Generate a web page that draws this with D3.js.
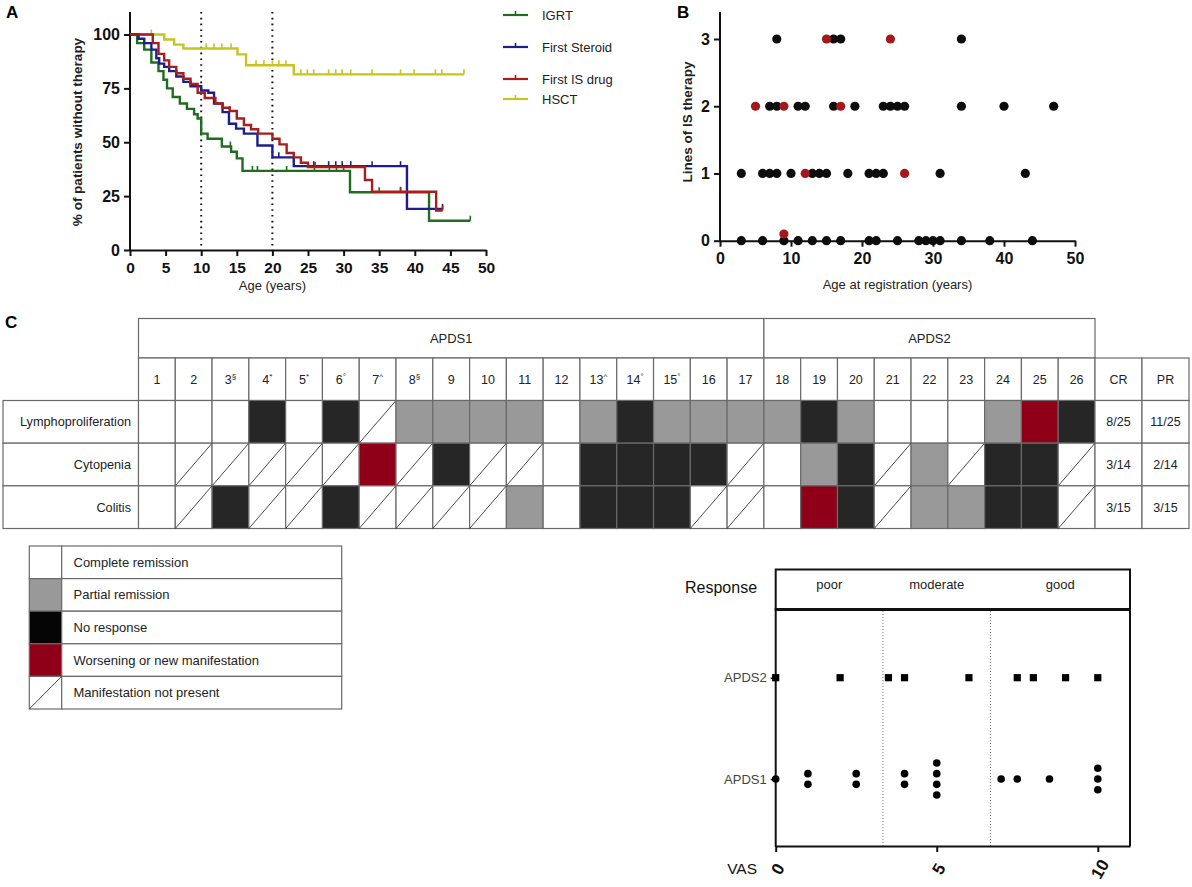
<!DOCTYPE html>
<html><head><meta charset="utf-8">
<script src="https://cdn.jsdelivr.net/npm/d3@7"></script>
<style>
body{margin:0;background:#fff}
svg{display:block}
text{font-family:"Liberation Sans",Arial,Helvetica,sans-serif}
</style>
</head><body>
<svg id="c" width="1192" height="887"></svg>
<script>
// ================= DATA =================
// Panel A: Kaplan-Meier style step curves (age in years, % without therapy)
const kmNames = ["IGRT","First Steroid","First IS drug","HSCT"];
const kmColors = ["#1f6e1f","#1d1d8c","#a81d1d","#c6c420"];
const igrtTimes = [0,1,2,3,4,4.7,5.2,6,7,8,9,9.5,10,10.9,12.9,14.2,15,15.8,30.9,42];
const igrtSurv  = [100,96,93,87,83,79,75,71,68,65.5,63,61,54,51.6,48,45.6,42.5,36.7,26.8,13.6];
const igrtEnd = 47.8;
const igrtCens = [14.1,17.2,17.9,22,25.9,28,29,30,35,38,47.8];
const steroidTimes = [0,1.2,2,3,3.7,4.1,4.8,5.5,6.5,7.5,8.5,10,11,11.8,13,13.9,14.9,16,17.9,20,23,38.9];
const steroidSurv  = [100,98,96,93,89,86.5,85,83,80.5,78,76,74,73,68,64,58.6,56.3,54,48.5,43,38.9,19.1];
const steroidEnd = 43.9;
const steroidCens = [20.9,25.8,27.9,28.9,29.8,31,34,38,43.9];
const isTimes = [0,3.2,4,4.8,5.5,6.5,7.5,8.5,9.5,10.5,12,13,14,15,16,17,18,20,21,22,23,24,25,33,34,43];
const isSurv  = [100,96,91,88,85,82,79.5,77,73,70.5,68,66,64.5,61,58,56,54,51.6,49,45,43,40.5,38.5,32.5,27,18.3];
const isEnd = 43.9;
const isCens = [14,23,26,38,43.9];
const hsctTimes = [0,4.8,6.2,7.5,15.1,16.3,23];
const hsctSurv  = [100,97.7,95.3,93.5,90.8,85.7,81.5];
const hsctEnd = 46.9;
const hsctCens = [3,10.7,11.8,12.9,14.2,17.7,18.8,20,20.9,21.9,24,24.9,25.8,27.9,28.9,29.8,31,34,38,39.9,42.9,43.8,46.9];
const ageTicksA = [0,5,10,15,20,25,30,35,40,45,50];
const pctTicksA = [0,25,50,75,100];
const refAges = [10,20];

// Panel B: lines of IS therapy vs age at registration
const blackAge   = [8,16,17,34, 7,8,11,12,16,19,23,24,25,26,34,40,47, 3,6,7,8,10,13,14,15,18,21,22,23,31,43, 3,6,9,11,13,15,17,21,22,25,28,29,30,31,34,38,44];
const blackLines = [3,3,3,3, 2,2,2,2,2,2,2,2,2,2,2,2,2, 1,1,1,1,1,1,1,1,1,1,1,1,1,1, 0,0,0,0,0,0,0,0,0,0,0,0,0,0,0,0,0];
const redAge   = [15,24, 5,9,17, 12,26, 9];
const redLines = [3,3, 2,2,2, 1,1, 0.1];
const ageTicksB = [0,10,20,30,40,50];
const lineTicksB = [0,1,2,3];

// Panel C: response table
const patientIds = ["1","2","3","4","5","6","7","8","9","10","11","12","13","14","15","16","17","18","19","20","21","22","23","24","25","26"];
const patientMarks = ["","","§","*","*","°","^","§","","","","","^","°","°","","","","","","","","","","",""];
const groupNames = ["APDS1","APDS2"];
const groupSizes = [17,9];
const manifestations = ["Lymphoproliferation","Cytopenia","Colitis"];
const lymphoResp = ["CR","CR","CR","NR","CR","NR","NP","PR","PR","PR","PR","CR","PR","NR","PR","PR","PR","PR","NR","PR","CR","CR","CR","PR","W","NR"];
const cytoResp   = ["CR","NP","NP","NP","NP","NP","W","NP","NR","NP","NP","CR","NR","NR","NR","NR","NP","CR","PR","NR","NP","PR","NP","NR","NR","NP"];
const colitisResp= ["CR","NP","NR","NP","NP","NR","NP","NP","NP","NP","PR","CR","NR","NR","NR","NP","NP","CR","W","NR","NP","PR","PR","NR","NR","NP"];
const summaryCols = ["CR","PR"];
const crValues = ["8/25","3/14","3/15"];
const prValues = ["11/25","2/14","3/15"];
const legendCodes  = ["CR","PR","NR","W","NP"];
const legendLabels = ["Complete remission","Partial remission","No response","Worsening or new manifestation","Manifestation not present"];

// Panel D: VAS response
const apds1Vas = [0,1,1,2.5,2.5,4,4,5,5,5,5,7,7.5,8.5,10,10,10];
const apds2Vas = [0,2,3.5,4,6,7.5,8,9,10];
const responseNames = ["poor","moderate","good"];
const responseCuts = [0,3.33,6.67,11];
const vasTicks = [0,5,10];

// ================= DRAW =================
const svg = d3.select("#c");
const ink = "#111";
function styleAxis(g, fs){
  g.selectAll("path.domain").attr("stroke",ink).attr("stroke-width",2);
  g.selectAll(".tick line").attr("stroke",ink).attr("stroke-width",2);
  g.selectAll(".tick text").attr("fill",ink).attr("font-size",fs).attr("font-weight","bold")
    .attr("font-family",'"Liberation Sans",Arial,sans-serif');
}
function panelLabel(t,x,y){ svg.append("text").attr("x",x).attr("y",y).attr("font-size",17).attr("font-weight","bold").attr("fill","#000").text(t); }

// ---------- Panel A ----------
panelLabel("A",6,18);
const xA = d3.scaleLinear().domain([0,50]).range([130,486]);
const yA = d3.scaleLinear().domain([0,100]).range([250,34.5]);
const gA = svg.append("g");
refAges.forEach(v=>{
  gA.append("line").attr("x1",xA(v)).attr("x2",xA(v)).attr("y1",12).attr("y2",250)
    .attr("stroke","#111").attr("stroke-width",2).attr("stroke-dasharray","1.6,4.2");
});
const axAx = gA.append("g").attr("transform","translate(0,250)")
  .call(d3.axisBottom(xA).tickValues(ageTicksA).tickSize(6).tickSizeOuter(0).tickPadding(6));
styleAxis(axAx,15.5);
const axAy = gA.append("g").attr("transform","translate(130,0)")
  .call(d3.axisLeft(yA).tickValues(pctTicksA).tickSize(6).tickSizeOuter(0).tickPadding(4));
styleAxis(axAy,16);
axAy.select("path.domain").remove();
gA.append("line").attr("x1",130).attr("x2",130).attr("y1",12).attr("y2",251).attr("stroke",ink).attr("stroke-width",2);
gA.append("text").attr("x",xA(20)).attr("y",290).attr("text-anchor","middle").attr("font-size",13).attr("fill","#222").text("Age (years)");
gA.append("text").attr("transform","translate(82,132) rotate(-90)").attr("text-anchor","middle").attr("font-size",13.5).attr("font-weight","bold").attr("fill","#222").text("% of patients without therapy");

const kmData = [
  {t:hsctTimes,s:hsctSurv,end:hsctEnd,c:hsctCens,col:kmColors[3]},
  {t:igrtTimes,s:igrtSurv,end:igrtEnd,c:igrtCens,col:kmColors[0]},
  {t:steroidTimes,s:steroidSurv,end:steroidEnd,c:steroidCens,col:kmColors[1]},
  {t:isTimes,s:isSurv,end:isEnd,c:isCens,col:kmColors[2]}
];
const stepLine = d3.line().x(d=>xA(d[0])).y(d=>yA(d[1])).curve(d3.curveStepAfter);
kmData.forEach(k=>{
  const pts = k.t.map((t,i)=>[t,k.s[i]]);
  pts.push([k.end,k.s[k.s.length-1]]);
  gA.append("path").attr("d",stepLine(pts)).attr("fill","none").attr("stroke",k.col).attr("stroke-width",2.4);
  k.c.forEach(ct=>{
    let v = k.s[0];
    k.t.forEach((t,i)=>{ if(t<=ct) v = k.s[i]; });
    gA.append("line").attr("x1",xA(ct)).attr("x2",xA(ct)).attr("y1",yA(v)).attr("y2",yA(v)-5)
      .attr("stroke",k.col).attr("stroke-width",1.6);
  });
});
// legend A
const legY = [15,47,79,99];
kmNames.forEach((n,i)=>{
  const y = legY[i];
  gA.append("line").attr("x1",503).attr("x2",528).attr("y1",y).attr("y2",y).attr("stroke",kmColors[i]).attr("stroke-width",2.2);
  gA.append("line").attr("x1",515.5).attr("x2",515.5).attr("y1",y).attr("y2",y-4).attr("stroke",kmColors[i]).attr("stroke-width",1.6);
  gA.append("text").attr("x",542).attr("y",y+4.5).attr("font-size",13).attr("fill","#222").text(n);
});

// ---------- Panel B ----------
panelLabel("B",677,18);
const xB = d3.scaleLinear().domain([0,50]).range([720,1075]);
const yB = d3.scaleLinear().domain([0,3]).range([240.7,39]);
const gB = svg.append("g");
const axBx = gB.append("g").attr("transform","translate(0,240.7)")
  .call(d3.axisBottom(xB).tickValues(ageTicksB).tickSize(6).tickSizeOuter(0).tickPadding(6));
styleAxis(axBx,16);
const axBy = gB.append("g").attr("transform","translate(720,0)")
  .call(d3.axisLeft(yB).tickValues(lineTicksB).tickFormat(d3.format("d")).tickSize(6).tickSizeOuter(0).tickPadding(4));
styleAxis(axBy,16);
axBy.select("path.domain").remove();
gB.append("line").attr("x1",720).attr("x2",720).attr("y1",12).attr("y2",241.7).attr("stroke",ink).attr("stroke-width",2);
gB.append("text").attr("x",xB(25)).attr("y",289).attr("text-anchor","middle").attr("font-size",13).attr("fill","#222").text("Age at registration (years)");
gB.append("text").attr("transform","translate(692,122) rotate(-90)").attr("text-anchor","middle").attr("font-size",13.5).attr("font-weight","bold").attr("fill","#222").text("Lines of IS therapy");
blackAge.forEach((a,i)=>{
  gB.append("circle").attr("cx",xB(a)).attr("cy",yB(blackLines[i])).attr("r",4.6).attr("fill","#0d0d0d");
});
redAge.forEach((a,i)=>{
  gB.append("circle").attr("cx",xB(a)).attr("cy",yB(redLines[i])).attr("r",4.6).attr("fill","#a3191b");
});

// ---------- Panel C ----------
panelLabel("C",5,328);
const gC = svg.append("g");
const cellFill = {CR:"#ffffff",PR:"#999999",NR:"#262626",W:"#8f0018",NP:"#ffffff"};
const gridCol = "#6a6a6a";
const xC = d3.scaleBand().domain(patientIds).range([138.5,1095]);
const xS = d3.scaleBand().domain(summaryCols).range([1095,1189]);
const yC = d3.scaleBand().domain(manifestations).range([400.5,528.5]);
const bw = xC.bandwidth(), bh = yC.bandwidth();
let startIdx = 0;
groupNames.forEach((g,i)=>{
  const x0 = xC(patientIds[startIdx]);
  const x1 = xC(patientIds[startIdx+groupSizes[i]-1])+bw;
  gC.append("rect").attr("x",x0).attr("y",318.5).attr("width",x1-x0).attr("height",39.5)
    .attr("fill","#fff").attr("stroke",gridCol).attr("stroke-width",1.2);
  gC.append("text").attr("x",(x0+x1)/2).attr("y",343).attr("text-anchor","middle").attr("font-size",13).attr("fill","#222").text(g);
  startIdx += groupSizes[i];
});
patientIds.forEach((p,i)=>{
  gC.append("rect").attr("x",xC(p)).attr("y",358).attr("width",bw).attr("height",42.5)
    .attr("fill","#fff").attr("stroke",gridCol).attr("stroke-width",1.2);
  const t = gC.append("text").attr("x",xC(p)+bw/2).attr("y",383.5).attr("text-anchor","middle").attr("font-size",12.5).attr("fill","#222");
  t.append("tspan").text(p);
  if(patientMarks[i]) t.append("tspan").attr("font-size",8).attr("dy",-5).text(patientMarks[i]);
});
summaryCols.forEach(s=>{
  gC.append("rect").attr("x",xS(s)).attr("y",358).attr("width",xS.bandwidth()).attr("height",42.5)
    .attr("fill","#fff").attr("stroke",gridCol).attr("stroke-width",1.2);
  gC.append("text").attr("x",xS(s)+xS.bandwidth()/2).attr("y",383.5).attr("text-anchor","middle").attr("font-size",12.5).attr("fill","#222").text(s);
});
const respRows = [lymphoResp,cytoResp,colitisResp];
manifestations.forEach((m,r)=>{
  const y = yC(m);
  gC.append("rect").attr("x",3).attr("y",y).attr("width",135.5).attr("height",bh)
    .attr("fill","#fff").attr("stroke",gridCol).attr("stroke-width",1.2);
  gC.append("text").attr("x",131).attr("y",y+bh/2+4.5).attr("text-anchor","end").attr("font-size",12.7).attr("fill","#222").text(m);
  respRows[r].forEach((code,i)=>{
    const x = xC(patientIds[i]);
    gC.append("rect").attr("x",x).attr("y",y).attr("width",bw).attr("height",bh)
      .attr("fill",cellFill[code]).attr("stroke",gridCol).attr("stroke-width",1.2);
    if(code==="NP"){
      gC.append("line").attr("x1",x).attr("y1",y+bh).attr("x2",x+bw).attr("y2",y)
        .attr("stroke","#333").attr("stroke-width",0.9);
    }
  });
  [crValues[r],prValues[r]].forEach((v,j)=>{
    const s = summaryCols[j];
    gC.append("rect").attr("x",xS(s)).attr("y",y).attr("width",xS.bandwidth()).attr("height",bh)
      .attr("fill","#fff").attr("stroke",gridCol).attr("stroke-width",1.2);
    gC.append("text").attr("x",xS(s)+xS.bandwidth()/2).attr("y",y+bh/2+4.5).attr("text-anchor","middle").attr("font-size",12.5).attr("fill","#222").text(v);
  });
});
const yL = d3.scaleBand().domain(legendCodes).range([546,709]);
const lh = yL.bandwidth();
legendCodes.forEach((c,i)=>{
  const y = yL(c);
  gC.append("rect").attr("x",29.3).attr("y",y).attr("width",32.4).attr("height",lh)
    .attr("fill",c==="NR"?"#050505":cellFill[c]).attr("stroke",gridCol).attr("stroke-width",1.2);
  if(c==="NP") gC.append("line").attr("x1",29.3).attr("y1",y+lh).attr("x2",61.7).attr("y2",y).attr("stroke","#333").attr("stroke-width",0.9);
  gC.append("rect").attr("x",61.7).attr("y",y).attr("width",280).attr("height",lh)
    .attr("fill","#fff").attr("stroke",gridCol).attr("stroke-width",1.2);
  gC.append("text").attr("x",73.5).attr("y",y+lh/2+4.5).attr("font-size",13).attr("fill","#222").text(legendLabels[i]);
});

// ---------- Panel D ----------
panelLabel("D",842,585);
const gD = svg.append("g");
const xD = d3.scaleLinear().domain([0,11]).range([775.7,1130]);
const yD = d3.scalePoint().domain(["APDS2","APDS1"]).range([677.7,779]);
gD.append("text").attr("x",685).attr("y",593).attr("font-size",16).attr("fill","#111").text("Response");
gD.append("rect").attr("x",775.7).attr("y",569.5).attr("width",1130-775.7).attr("height",39.5)
  .attr("fill","#fff").attr("stroke","#111").attr("stroke-width",2);
gD.append("line").attr("x1",774.7).attr("x2",1131).attr("y1",609.5).attr("y2",609.5).attr("stroke","#111").attr("stroke-width",3);
responseNames.forEach((n,i)=>{
  const c = (responseCuts[i]+responseCuts[i+1])/2;
  gD.append("text").attr("x",xD(c)).attr("y",589).attr("text-anchor","middle").attr("font-size",13).attr("fill","#222").text(n);
});
responseCuts.slice(1,3).forEach(v=>{
  gD.append("line").attr("x1",xD(v)).attr("x2",xD(v)).attr("y1",611).attr("y2",846)
    .attr("stroke","#777").attr("stroke-width",1).attr("stroke-dasharray","1,2");
});
gD.append("line").attr("x1",1130).attr("x2",1130).attr("y1",610).attr("y2",846).attr("stroke","#111").attr("stroke-width",2);
const axDx = gD.append("g").attr("transform","translate(0,846)")
  .call(d3.axisBottom(xD).tickValues(vasTicks).tickSize(6).tickSizeOuter(0).tickFormat(""));
axDx.selectAll("path.domain").attr("stroke","#111").attr("stroke-width",2);
axDx.selectAll(".tick line").attr("stroke","#111").attr("stroke-width",2);
vasTicks.forEach(v=>{
  gD.append("text").attr("transform",`translate(${xD(v)+2},${869}) rotate(-60)`).attr("text-anchor","middle")
    .attr("dy","0.35em").attr("font-size",17).attr("font-weight","bold").attr("fill","#111").text(v);
});
gD.append("text").attr("x",757).attr("y",874).attr("text-anchor","end").attr("font-size",15.5).attr("fill","#111").text("VAS");
const axDy = gD.append("g").attr("transform","translate(775.7,0)")
  .call(d3.axisLeft(yD).tickSize(5).tickSizeOuter(0).tickPadding(4));
axDy.select("path.domain").remove();
axDy.selectAll(".tick line").attr("stroke","#111").attr("stroke-width",1.5);
axDy.selectAll(".tick text").attr("font-size",13).attr("fill","#444").attr("font-family",'"Liberation Sans",Arial,sans-serif');
gD.append("line").attr("x1",775.7).attr("x2",775.7).attr("y1",610).attr("y2",847).attr("stroke","#111").attr("stroke-width",2);
apds2Vas.forEach(v=>{
  gD.append("rect").attr("x",xD(v)-3.6).attr("y",yD("APDS2")-3.6).attr("width",7.2).attr("height",7.2).attr("fill","#000");
});
const counts = d3.rollup(apds1Vas, v=>v.length, d=>d);
const seen = new Map();
apds1Vas.forEach(v=>{
  const n = counts.get(v); const k = seen.get(v)||0; seen.set(v,k+1);
  const off = (k-(n-1)/2)*10.7;
  gD.append("circle").attr("cx",xD(v)).attr("cy",yD("APDS1")+off).attr("r",3.8).attr("fill","#000");
});
</script>
</body></html>
